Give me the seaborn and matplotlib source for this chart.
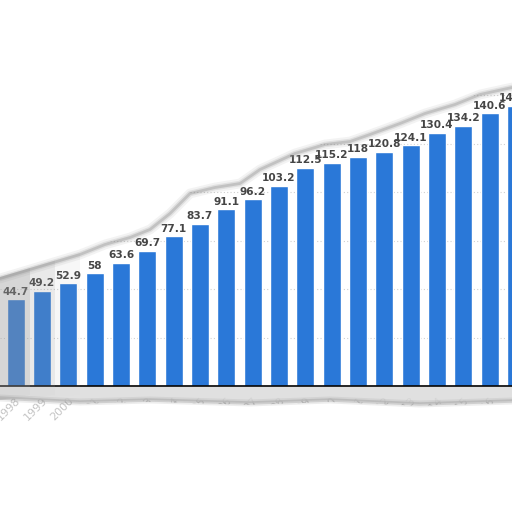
import matplotlib
matplotlib.use("Agg")
import matplotlib.pyplot as plt
from matplotlib.patches import Polygon
import seaborn as sns
import pandas as pd

years = ["1998", "1999", "2000", "2001", "2002", "2003", "2004", "2005", "2006", "2007",
         "2008", "2009", "2010", "2011", "2012", "2013", "2014", "2015", "2016", "2017"]
values = [44.7, 49.2, 52.9, 58, 63.6, 69.7, 77.1, 83.7, 91.1, 96.2,
          103.2, 112.5, 115.2, 118, 120.8, 124.1, 130.4, 134.2, 140.6, 144.5]
labels = ["44.7", "49.2", "52.9", "58", "63.6", "69.7", "77.1", "83.7", "91.1", "96.2",
          "103.2", "112.5", "115.2", "118", "120.8", "124.1", "130.4", "134.2", "140.6", "144.5"]

df = pd.DataFrame({"year": years, "value": values})

sns.set_theme(style="white")
plt.rcParams["font.family"] = ["DejaVu Sans"]

W = 512.0
fig = plt.figure(figsize=(5.12, 5.12), dpi=100)
fig.patch.set_facecolor("white")
ax = fig.add_axes([0, 126 / W, 1, 386 / W])

sns.barplot(data=df, x="year", y="value", color="#2a78d8", width=0.68,
            saturation=1, ax=ax, zorder=3)
ax.set_xlim(-0.596, 18.85)
ax.set_ylim(0, 199)
for g in [25, 50, 75, 100, 125, 150, 175]:
    ax.axhline(g, color="#d0d0d0", lw=0.8, ls=(0, (1, 2)), zorder=1)
anns = ax.bar_label(ax.containers[0], labels=labels, padding=2, fontsize=7.6,
                    fontweight="bold", color="#454545", zorder=4)
for t in anns:
    t.set_annotation_clip(False)
    t.set_clip_on(False)
ax.set_yticks([])
ax.set_xlabel("")
ax.set_ylabel("")
for s in ["top", "left", "right"]:
    ax.spines[s].set_visible(False)
ax.spines["bottom"].set_color("black")
ax.spines["bottom"].set_linewidth(1.2)
ax.spines["bottom"].set_zorder(5)
ax.tick_params(axis="x", length=0, pad=7)
plt.setp(ax.get_xticklabels(), rotation=45, ha="right", rotation_mode="anchor",
         fontsize=8, color="#c4c4c4")


def P(pts):
    return [(x / W, 1 - y / W) for x, y in pts]


# torn top edge
tear = [(0, 277), (40, 265), (80, 253), (105, 243), (130, 236), (150, 228),
        (170, 212), (190, 192), (215, 186), (240, 182), (260, 168), (295, 152),
        (325, 143), (350, 140), (370, 133), (400, 122), (425, 112), (455, 103),
        (480, 93), (512, 86)]
top_poly = tear + [(512, -5), (0, -5)]
fig.add_artist(Polygon(P(top_poly), closed=True, transform=fig.transFigure,
                       facecolor="white", edgecolor="none", zorder=10))
tx = [p[0] / W for p in tear]
ty = [1 - (p[1] + 1.5) / W for p in tear]
for lw, a in [(7, 0.10), (4, 0.18), (2, 0.35)]:
    fig.add_artist(plt.Line2D(tx, ty, transform=fig.transFigure, color="#8a8a8a",
                              lw=lw, alpha=a, solid_capstyle="round", zorder=11))

# left washed shadow
for (x0, x1, a) in [(0, 30, 0.22), (0, 55, 0.14), (0, 80, 0.08)]:
    fig.add_artist(Polygon(P([(x0, 270), (x1, 250), (x1, 395), (x0, 400)]),
                           closed=True, transform=fig.transFigure,
                           facecolor="#9a9a9a", edgecolor="none", alpha=a, zorder=9))

# bottom torn edge shadow
band = [(0, 387), (512, 387), (512, 401), (420, 404), (330, 400), (250, 403),
        (150, 400), (80, 402), (0, 398)]
fig.add_artist(Polygon(P(band), closed=True, transform=fig.transFigure,
                       facecolor="#d9d9d9", edgecolor="none", alpha=0.8, zorder=9))
bedge = [(0, 398), (80, 402), (150, 400), (250, 403), (330, 400), (420, 404), (512, 401)]
bx = [p[0] / W for p in bedge]
by = [1 - p[1] / W for p in bedge]
for lw, a in [(5, 0.15), (2.5, 0.3)]:
    fig.add_artist(plt.Line2D(bx, by, transform=fig.transFigure, color="#8a8a8a",
                              lw=lw, alpha=a, zorder=11))
bottom_mask = [(72, 404), (150, 402), (250, 405), (330, 402), (420, 406), (512, 403),
               (512, 520), (0, 520), (0, 440), (72, 440)]
fig.add_artist(Polygon(P(bottom_mask), closed=True, transform=fig.transFigure,
                       facecolor="white", edgecolor="none", zorder=10))

fig.savefig("out.png", dpi=100, facecolor="white")
